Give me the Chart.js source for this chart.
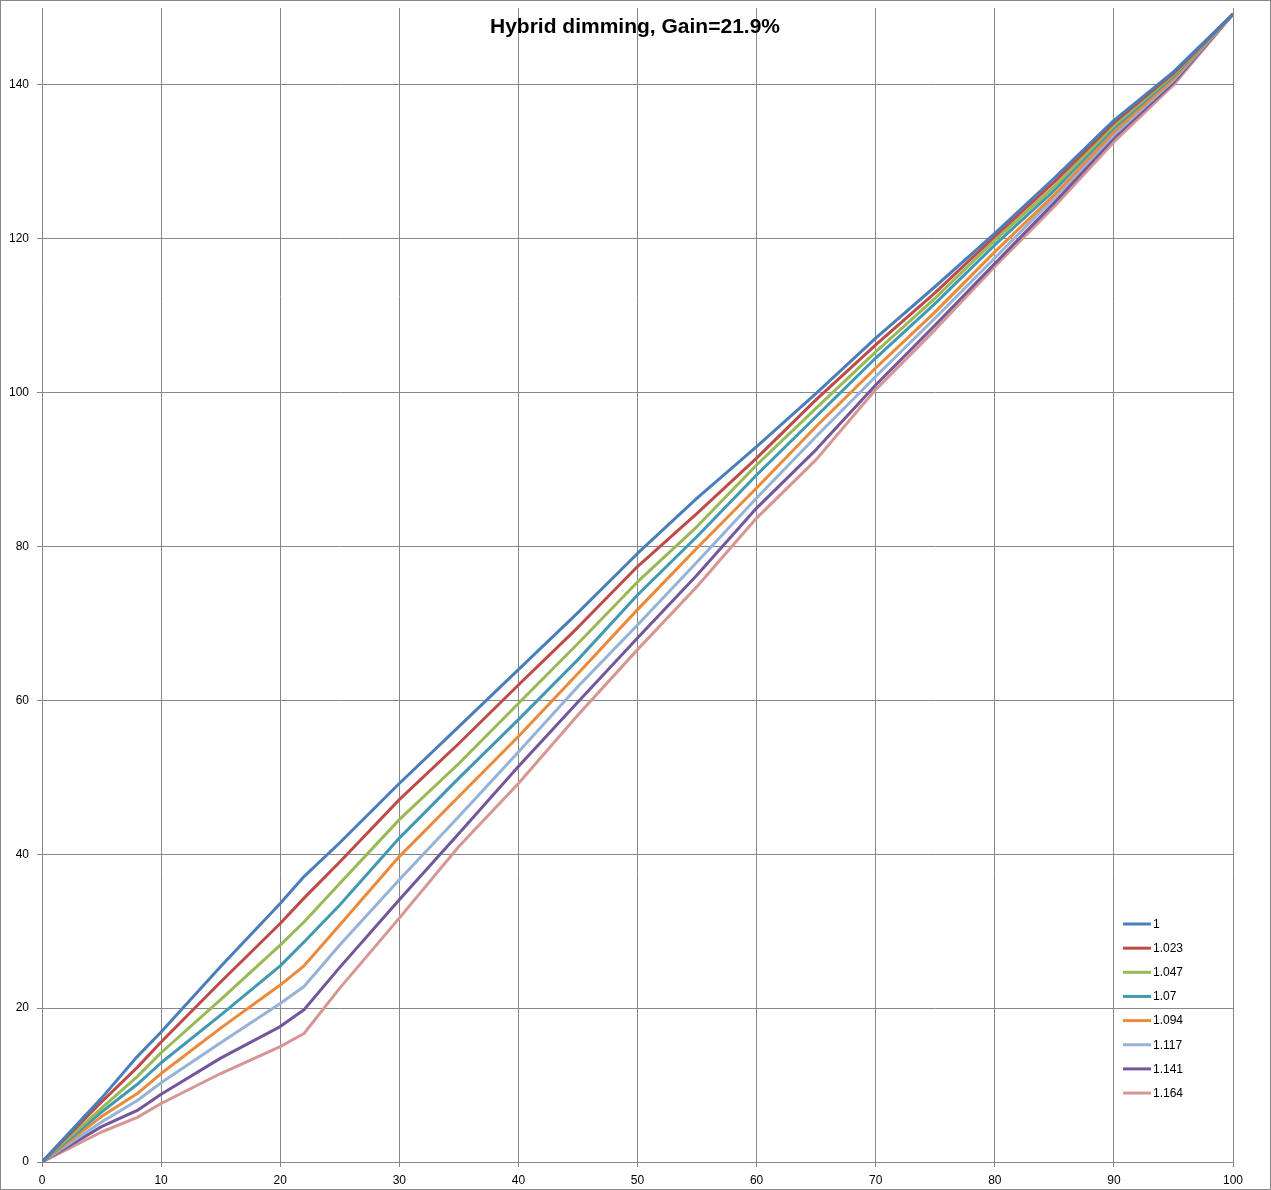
<!DOCTYPE html>
<html>
<head>
<meta charset="utf-8">
<title>Hybrid dimming</title>
<script src="https://cdn.jsdelivr.net/npm/chart.js@4.4.1/dist/chart.umd.min.js"></script>
<style>
  html, body { margin: 0; padding: 0; background: #fff; }
  #wrap { position: relative; width: 1271px; height: 1190px; }
</style>
</head>
<body>
<div id="wrap"><canvas id="chart"></canvas></div>
<script>
// --- data ---
const xValues = [0, 5, 8, 10, 15, 20, 22, 25, 30, 35, 40, 45, 50, 55, 60, 65, 70, 75, 80, 85, 90, 95, 100];

const gain1000 = [0, 8.3, 13.7, 16.9, 25.4, 33.6, 37.1, 41.5, 49.2, 56.6, 64.0, 71.4, 79.1, 86.3, 93.0, 99.9, 107.1, 113.8, 120.7, 127.9, 135.4, 141.7, 149.2];
const gain1023 = [0, 7.8, 12.3, 15.6, 23.4, 31.0, 34.3, 39.0, 47.1, 54.4, 62.0, 69.5, 77.4, 84.3, 91.5, 99.1, 106.2, 113.0, 120.3, 127.4, 135.1, 141.5, 149.2];
const gain1047 = [0, 7.0, 11.1, 14.2, 21.1, 28.2, 31.2, 36.2, 44.5, 51.8, 59.6, 67.4, 75.4, 82.6, 90.6, 98.0, 105.3, 112.3, 119.8, 126.8, 134.7, 141.3, 149.2];
const gain1070 = [0, 6.5, 10.1, 12.9, 19.1, 25.5, 28.6, 33.4, 42.1, 49.9, 57.5, 65.3, 73.7, 81.3, 89.3, 96.9, 104.5, 111.6, 119.2, 126.3, 134.4, 141.1, 149.2];
const gain1094 = [0, 5.9, 8.9, 11.5, 17.4, 23.0, 25.5, 30.8, 39.7, 47.5, 55.3, 63.5, 71.8, 79.8, 87.6, 95.6, 103.2, 110.5, 118.3, 125.7, 133.9, 140.8, 149.2];
const gain1117 = [0, 5.2, 8.0, 10.3, 15.5, 20.6, 22.8, 28.2, 36.7, 44.9, 53.3, 61.8, 69.8, 78.0, 86.3, 94.3, 102.1, 109.7, 117.5, 125.3, 133.5, 140.6, 149.2];
const gain1141 = [0, 4.6, 6.7, 8.8, 13.5, 17.6, 19.8, 25.3, 34.1, 42.7, 51.4, 59.8, 68.1, 76.3, 85.0, 92.6, 101.0, 108.8, 116.8, 124.7, 133.1, 140.3, 149.2];
const gain1164 = [0, 3.9, 5.8, 7.6, 11.5, 15.0, 16.7, 22.6, 31.7, 41.0, 49.2, 58.1, 66.6, 74.8, 83.7, 91.3, 100.4, 108.2, 116.4, 124.2, 132.6, 140.0, 149.2];

const seriesLabels = ['1', '1.023', '1.047', '1.07', '1.094', '1.117', '1.141', '1.164'];
const seriesValues = [gain1000, gain1023, gain1047, gain1070, gain1094, gain1117, gain1141, gain1164];
const seriesColors = ['#4A7EBB', '#BE4B48', '#98B954', '#4199B2', '#EC8A3C', '#95B3D7', '#73579A', '#D69693'];

const xTicks = [0, 10, 20, 30, 40, 50, 60, 70, 80, 90, 100];
const yTicks = [0, 20, 40, 60, 80, 100, 120, 140];

const titleText = 'Hybrid dimming, Gain=21.9%';

const gridGray = '#878787';
const tickFont = { family: "'Liberation Sans', Arial, sans-serif", size: 12 };

// Excel-like frame, title and in-plot legend
const excelDecor = {
    id: 'excelDecor',
    beforeDraw(chart) {
        const ctx = chart.ctx;
        ctx.save();
        ctx.fillStyle = '#fff';
        ctx.fillRect(0, 0, chart.width, chart.height);
        ctx.restore();
    },
    afterDraw(chart) {
        const ctx = chart.ctx;
        const area = chart.chartArea;
        ctx.save();

        // outer border
        ctx.strokeStyle = gridGray;
        ctx.lineWidth = 1;
        ctx.strokeRect(0.5, 0.5, chart.width - 1, chart.height - 1);

        // title
        ctx.fillStyle = '#000';
        ctx.font = "bold 21px 'Liberation Sans', Arial, sans-serif";
        ctx.textAlign = 'center';
        ctx.textBaseline = 'middle';
        ctx.fillText(titleText, 635, 27);

        // legend
        const x0 = area.right - 110;
        const y0 = area.bottom - 238;
        ctx.font = "12px 'Liberation Sans', Arial, sans-serif";
        ctx.textAlign = 'left';
        ctx.lineCap = 'butt';
        chart.data.datasets.forEach((ds, i) => {
            const y = y0 + i * 24.15;
            ctx.strokeStyle = ds.borderColor;
            ctx.lineWidth = 3;
            ctx.beginPath();
            ctx.moveTo(x0, y);
            ctx.lineTo(x0 + 28, y);
            ctx.stroke();
            ctx.fillStyle = '#000';
            ctx.fillText(ds.label, x0 + 30, y + 0.5);
        });
        ctx.restore();
    }
};

const datasets = seriesLabels.map((label, i) => ({
    label: label,
    data: xValues.map((x, j) => ({ x: x, y: seriesValues[i][j] })),
    borderColor: seriesColors[i],
    backgroundColor: seriesColors[i],
    borderWidth: 3,
    borderJoinStyle: 'round',
    pointRadius: 0,
    tension: 0,
    fill: false
}));

new Chart(document.getElementById('chart'), {
    type: 'line',
    data: { datasets: datasets },
    options: {
        responsive: true,
        maintainAspectRatio: false,
        animation: false,
        layout: { padding: { top: 8, right: 38, left: 0, bottom: 0 } },
        plugins: {
            legend: { display: false },
            title: { display: false },
            tooltip: { enabled: false }
        },
        scales: {
            x: {
                type: 'linear',
                min: 0,
                max: 100,
                afterBuildTicks: (scale) => { scale.ticks = xTicks.map(v => ({ value: v })); },
                afterFit: (scale) => { scale.height = 28; scale.paddingLeft = 0; scale.paddingRight = 0; },
                ticks: { color: '#000', font: tickFont, padding: 6, maxRotation: 0 },
                grid: { color: gridGray, lineWidth: 1, tickLength: 5, drawTicks: true },
                border: { color: gridGray, width: 1 }
            },
            y: {
                type: 'linear',
                min: 0,
                max: 150,
                afterBuildTicks: (scale) => { scale.ticks = yTicks.map(v => ({ value: v })); },
                afterFit: (scale) => { scale.width = 42; scale.paddingTop = 0; scale.paddingBottom = 0; },
                ticks: { color: '#000', font: tickFont, padding: 8 },
                grid: { color: gridGray, lineWidth: 1, tickLength: 5, drawTicks: true },
                border: { color: gridGray, width: 1 }
            }
        }
    },
    plugins: [excelDecor]
});
</script>
</body>
</html>
